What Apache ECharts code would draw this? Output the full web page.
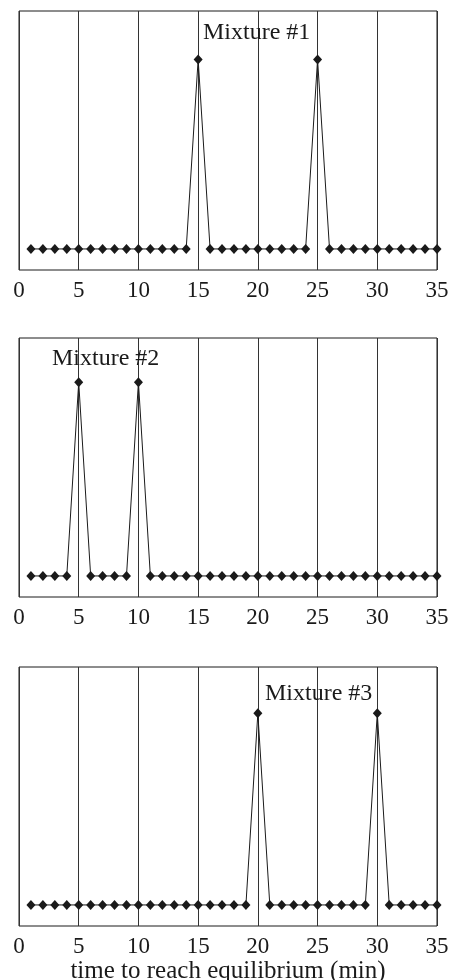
<!DOCTYPE html>
<html lang="en">
  <head>
    <meta charset="UTF-8" />
    <title>Mixtures</title>
    <style>
      html, body { margin: 0; padding: 0; background: #fff; }
      #main { width: 451px; height: 980px; }
    </style>
  </head>
  <body>
    <div id="main"></div>
    <script src="https://cdn.jsdelivr.net/npm/echarts@6/dist/echarts.min.js"></script>
    <script>
      // minutes 1..35
      var minutes = [];
      for (var m = 1; m <= 35; m++) minutes.push(m);

      // signal at each minute (arbitrary units)
      var mix1 = [1,1,1,1,1,1,1,1,1,1,1,1,1,1,10,1,1,1,1,1,1,1,1,1,10,1,1,1,1,1,1,1,1,1,1];
      var mix2 = [1,1,1,1,10.2,1,1,1,1,10.2,1,1,1,1,1,1,1,1,1,1,1,1,1,1,1,1,1,1,1,1,1,1,1,1,1];
      var mix3 = [1,1,1,1,1,1,1,1,1,1,1,1,1,1,1,1,1,1,1,10.1,1,1,1,1,1,1,1,1,1,10.1,1,1,1,1,1];
      var names = ["Mixture #1", "Mixture #2", "Mixture #3"];
      var xTicks = [0, 5, 10, 15, 20, 25, 30, 35];

      var font = "'Liberation Serif', 'Times New Roman', serif";
      var ink = "#1a1a1a";

      var myChart = echarts.init(document.getElementById("main"), null, { renderer: "canvas" });

      var tops = [11, 338, 667];
      var titlePos = [[203, 21], [52, 347], [265, 682]];
      var all = [mix1, mix2, mix3];

      var grids = [], xAxes = [], yAxes = [], series = [], titles = [];
      for (var i = 0; i < 3; i++) {
        grids.push({
          left: 19, right: 14, top: tops[i], height: 259,
          outerBoundsMode: "none",
          show: true, borderColor: ink, borderWidth: 1, backgroundColor: "transparent"
        });
        xAxes.push({
          type: "value", gridIndex: i, min: xTicks[0], max: xTicks[xTicks.length - 1], interval: 5,
          axisLine: { show: false }, axisTick: { show: false },
          splitLine: { show: true, lineStyle: { color: "#333", width: 1 } },
          axisLabel: { color: ink, fontFamily: font, fontSize: 23, margin: 9 },
          name: i === 2 ? "time to reach equilibrium (min)" : "",
          nameLocation: "middle", nameGap: 32,
          nameTextStyle: { color: ink, fontFamily: font, fontSize: 25 }
        });
        yAxes.push({
          type: "value", gridIndex: i, min: 0, max: 12.3,
          axisLine: { show: false }, axisTick: { show: false },
          axisLabel: { show: false }, splitLine: { show: false }
        });
        series.push({
          type: "line", xAxisIndex: i, yAxisIndex: i,
          data: minutes.map(function (t, k) { return [t, all[i][k]]; }),
          symbol: "diamond", symbolSize: [9, 10],
          itemStyle: { color: ink },
          lineStyle: { color: ink, width: 1 },
          animation: false
        });
        titles.push({
          text: names[i], left: titlePos[i][0], top: titlePos[i][1], padding: 0,
          textStyle: { color: ink, fontFamily: font, fontSize: 24, fontWeight: "normal" }
        });
      }

      myChart.setOption({
        animation: false,
        title: titles,
        grid: grids,
        xAxis: xAxes,
        yAxis: yAxes,
        series: series
      });
    </script>
  </body>
</html>
